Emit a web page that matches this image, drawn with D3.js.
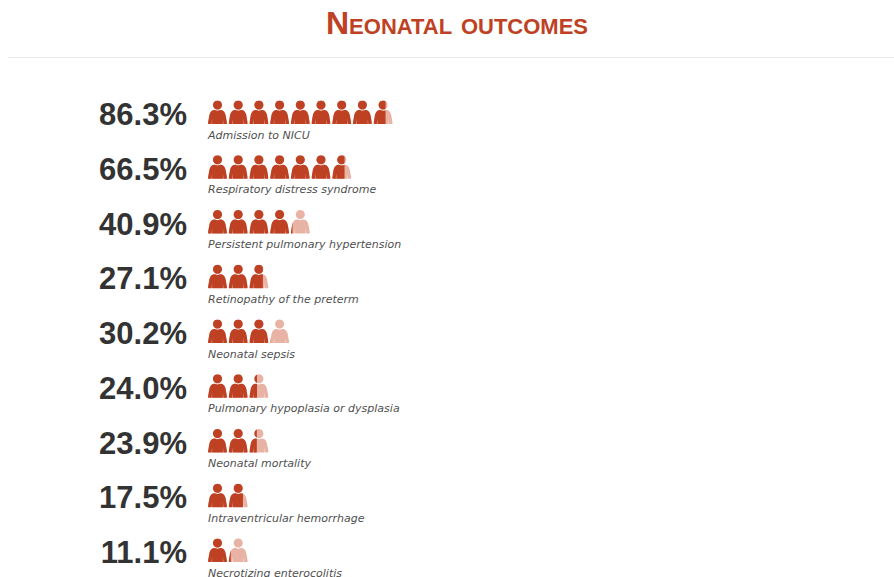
<!DOCTYPE html>
<html>
<head>
<meta charset="utf-8">
<script src="https://cdn.jsdelivr.net/npm/d3@7"></script>
<style>
    body { margin: 0; background: #fff; overflow: hidden; }
</style>
</head>
<body>
<div id="chart"></div>
<script>
const width = 894;
const height = 577;

const titleText = "Neonatal outcomes";
const outcomes = [
    "Admission to NICU",
    "Respiratory distress syndrome",
    "Persistent pulmonary hypertension",
    "Retinopathy of the preterm",
    "Neonatal sepsis",
    "Pulmonary hypoplasia or dysplasia",
    "Neonatal mortality",
    "Intraventricular hemorrhage",
    "Necrotizing enterocolitis"
];
const percents = [86.3, 66.5, 40.9, 27.1, 30.2, 24.0, 23.9, 17.5, 11.1];

const dark = "#bf4124";
const light = "#e8b3a5";

const svg = d3.select("#chart")
    .append("svg")
    .attr("width", width)
    .attr("height", height)
    .attr("viewBox", [0, 0, width, height])
    .style("display", "block");

// title, small caps by hand so the first letter is bigger
const title = svg.append("text")
    .attr("x", 457)
    .attr("y", 34)
    .attr("text-anchor", "middle")
    .attr("fill", dark)
    .attr("font-family", "Liberation Sans, Arial, sans-serif")
    .attr("font-weight", "bold")
    .attr("word-spacing", 3);
title.append("tspan").attr("font-size", 32).text(titleText[0]);
title.append("tspan").attr("font-size", 22).text(titleText.slice(1).toUpperCase());

svg.append("line")
    .attr("x1", 8).attr("x2", width)
    .attr("y1", 57.5).attr("y2", 57.5)
    .attr("stroke", "#e9e9e7");

// one row per outcome
const y = d3.scalePoint()
    .domain(d3.range(outcomes.length))
    .range([125, 563]);

// one icon stands for 10 percent
const x = d3.scaleLinear().domain([0, 10]).range([208, 415]);
const iconW = 19;

// person icon, drawn in a box 19 wide and 24 tall
const personPath = "M9.5 0a4.5 4.5 0 1 1 -0.01 0z"
    + "M6 9.6C7 9.6 8 10.3 9.5 10.3C11 10.3 12 9.6 13 9.6"
    + "C15.8 10 17 12 17.6 14.5L19 22.4C19 23 18.6 23.4 18 23.4L15.4 23.4L14.9 18L14.9 23.4L4.1 23.4L4.1 18L3.6 23.4L1 23.4"
    + "C0.4 23.4 0 23 0 22.4L1.4 14.5C2 12 3.2 10 6 9.6z";

const defs = svg.append("defs");

const rows = svg.selectAll("g.row")
    .data(percents)
    .join("g")
    .attr("class", "row")
    .attr("transform", (d, i) => `translate(0,${y(i)})`);

rows.append("text")
    .attr("x", 187)
    .attr("text-anchor", "end")
    .attr("fill", "#333333")
    .attr("font-family", "Liberation Sans, Arial, sans-serif")
    .attr("font-weight", "bold")
    .attr("font-size", 31)
    .text(d => d.toFixed(1) + "%");

rows.append("text")
    .attr("x", 208)
    .attr("y", 13.5)
    .attr("fill", "#505050")
    .attr("font-family", "DejaVu Sans, Verdana, sans-serif")
    .attr("font-style", "italic")
    .attr("font-size", 11)
    .text((d, i) => outcomes[i]);

rows.each(function (value, r) {
    const units = value / 10;
    const icons = d3.range(Math.ceil(units));
    const g = d3.select(this).selectAll("g.icon")
        .data(icons)
        .join("g")
        .attr("class", "icon")
        .attr("transform", k => `translate(${x(k)},-24.5)`);

    g.append("path").attr("d", personPath).attr("fill", light);

    // dark part is clipped to the share of the last icon
    g.append("path")
        .attr("d", personPath)
        .attr("fill", dark)
        .attr("clip-path", k => {
            const id = `clip-${r}-${k}`;
            defs.append("clipPath").attr("id", id)
                .append("rect")
                .attr("width", iconW * Math.min(1, units - k))
                .attr("height", 24);
            return `url(#${id})`;
        });
});
</script>
</body>
</html>
